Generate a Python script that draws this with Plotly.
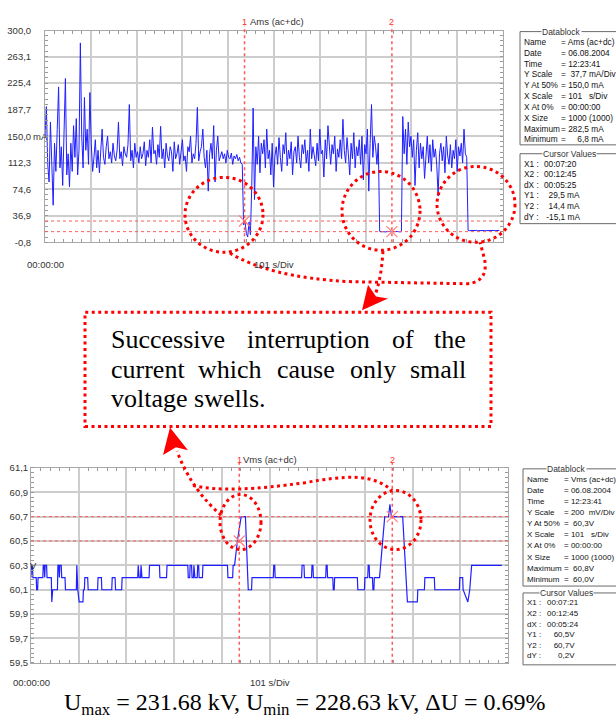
import plotly.graph_objects as go

W, H = 616, 724
SANS = "Liberation Sans, Arial, sans-serif"
SERIF = "Liberation Serif, Times New Roman, serif"
TXT = "#333333"
GRID = "#cdcdcd"
FRAME = "#a8a8a8"
TRACE = "#1f1fff"
RED = "#ff0000"
CURSOR = "#ff5a5a"
NBSP = "\u00a0"

# ---------------- data ----------------
# RMS current, one value every 3 s (mA)
CURRENT_STEP_S = 3
current_ma = [
    150, 192, 110, 85, 170, 120, 52, 140, 100, 160,
    220, 105, 135, 80, 150, 232, 95, 125, 78, 140,
    100, 165, 120, 175, 95, 130, 282.5, 150, 105, 205,
    130, 160, 110, 212, 140, 100, 120, 145, 105, 130,
    98, 125, 160, 120, 110, 135, 150, 118, 128, 112,
    140, 122, 115, 130, 170, 118, 128, 108, 135, 125,
    120, 138, 195, 115, 130, 105, 140, 120, 128, 112,
    135, 118, 125, 142, 108, 130, 120, 145, 112, 163,
    125, 130, 110, 138, 120, 164, 118, 132, 105, 140,
    122, 115, 135, 128, 100, 142, 118, 125, 138, 110,
    130, 145, 115, 122, 100, 135, 128, 150, 112, 125,
    118, 140, 191, 115, 128, 135, 160, 120, 105, 130,
    72, 125, 140, 118, 165, 85, 130, 150, 115, 122,
    128, 118, 125, 112, 130, 120, 118, 126, 110, 122,
    118, 124, 115, 120, 112, 110, 24, 29.5, 12, 6.8,
    28, 10, 80, 190, 60, 135, 110, 150, 98, 140,
    125, 145, 105, 160, 118, 130, 95, 140, 78, 122,
    135, 110, 148, 120, 100, 138, 125, 155, 108, 130,
    118, 142, 95, 128, 135, 112, 150, 120, 105, 138,
    125, 145, 112, 130, 100, 160, 118, 135, 122, 108,
    140, 115, 160, 125, 130, 92, 145, 118, 165, 128,
    110, 138, 125, 150, 100, 132, 120, 145, 118, 174,
    130, 112, 148, 125, 95, 140, 118, 155, 105, 135,
    122, 145, 110, 150, 88, 138, 125, 160, 72, 140,
    195, 120, 150, 135, 110, 140, 14.8, 14.2, 14.6, 14.4,
    14.0, 14.6, 14.3, 14.8, 14.2, 14.4, 14.5, 14.1, 14.4, 14.6,
    14.2, 14.5, 14.3, 178, 125, 160, 110, 170, 135, 150,
    120, 145, 80, 130, 155, 105, 140, 118, 135, 90,
    128, 150, 112, 138, 100, 145, 120, 132, 108, 65,
    125, 140, 115, 135, 98, 150, 122, 110, 138, 105,
    130, 118, 145, 100, 135, 122, 140, 112, 160, 125,
    120, 16.2, 15.8, 16.0, 16.1, 15.9, 16.0, 16.2, 15.8, 16.0,
    16.0, 15.9, 16.1, 16.0, 15.8, 16.0, 16.1, 15.9, 16.0, 16.1,
    16.1, 15.9, 16.0, 16.0, 16.1,
]
current_t = [i * CURRENT_STEP_S for i in range(len(current_ma))]

# RMS voltage, level changes as (time s, V)
voltage_steps = [
    (0, 60.2), (1, 60.3), (3, 60.3), (4, 60.2), (11, 60.2), (12, 60.1), (14, 60.1), (15, 60.2),
    (25, 60.2), (26, 60.3), (28, 60.3), (29, 60.2), (30, 60.3), (33, 60.3), (34, 60.2), (43, 60.2),
    (44, 60.0), (46, 60.1), (56, 60.1), (57, 60.3), (59, 60.3), (60, 60.2), (61, 60.3), (64, 60.3),
    (65, 60.2), (72, 60.2), (73, 60.1), (96, 60.1), (97, 60.3), (99, 60.1), (102, 60.0), (110, 60.0),
    (111, 60.1), (113, 60.1), (114, 60.2), (120, 60.2), (121, 60.1), (141, 60.1), (142, 60.2),
    (149, 60.2), (150, 60.1), (171, 60.1), (172, 60.2), (178, 60.2), (179, 60.1), (192, 60.1),
    (193, 60.2), (226, 60.2), (227, 60.3), (229, 60.2), (232, 60.2), (233, 60.3), (235, 60.2),
    (250, 60.2), (251, 60.3), (272, 60.3), (273, 60.2), (287, 60.2), (288, 60.3), (332, 60.3),
    (333, 60.2), (336, 60.2), (337, 60.3), (340, 60.3), (341, 60.2), (344, 60.2), (345, 60.3),
    (347, 60.2), (352, 60.2), (353, 60.3), (355, 60.3), (356, 60.2), (363, 60.2), (364, 60.3),
    (416, 60.3), (417, 60.2), (427, 60.2), (428, 60.3), (431, 60.3), (437, 60.5), (445, 60.7),
    (454, 60.7), (460, 60.1), (467, 60.1), (468, 60.2), (513, 60.2), (514, 60.3), (516, 60.3),
    (517, 60.2), (573, 60.2), (574, 60.3), (578, 60.3), (579, 60.2), (594, 60.2), (595, 60.3),
    (597, 60.3), (598, 60.2), (624, 60.2), (625, 60.3), (627, 60.3), (628, 60.2), (639, 60.2),
    (640, 60.1), (642, 60.1), (643, 60.2), (691, 60.2), (692, 60.1), (706, 60.1), (707, 60.2),
    (713, 60.2), (714, 60.3), (716, 60.3), (717, 60.2), (723, 60.2), (724, 60.1), (726, 60.1),
    (727, 60.2), (738, 60.2), (749, 60.7), (757, 60.7), (760, 60.8), (763, 60.7), (787, 60.7),
    (797, 60.0), (818, 60.0), (819, 60.1), (833, 60.1), (834, 60.2), (854, 60.2), (855, 60.1),
    (907, 60.1), (908, 60.2), (914, 60.2), (915, 60.1), (925, 60.0), (929, 60.1), (933, 60.3),
    (997, 60.3),
]
voltage_t = [p[0] for p in voltage_steps]
voltage_v = [p[1] for p in voltage_steps]

# scope screen scales
X_DIV_S = 101
X_DIVS = 10
current_tickvals = [-0.8, 36.9, 74.6, 112.3, 150.0, 187.7, 225.4, 263.1, 300.0]
current_ticktext = ["-0,8", "36,9", "74,6", "112,3", "150,0", "187,7", "225,4", "263,1", "300,0"]
voltage_tickvals = [59.5, 59.7, 59.9, 60.1, 60.3, 60.5, 60.7, 60.9, 61.1]
voltage_ticktext = ["59,5", "59,7", "59,9", "60,1", "60,3", "60,5", "60,7", "60,9", "61,1"]

# cursor positions (s) and levels
current_cursor_t = [440, 765]
current_cursor_y = [29.5, 14.4]
voltage_cursor_t = [441, 765]
voltage_cursor_y = [60.5, 60.7]

current_datablock = [
    ("Name", "= Ams (ac+dc)"), ("Date", "= 06.08.2004"), ("Time", "= 12:23:41"),
    ("Y Scale", "=" + NBSP * 2 + "37,7 mA/Div"), ("Y At 50%", "= 150,0 mA"),
    ("X Scale", "= 101" + NBSP * 3 + "s/Div"), ("X At 0%", "= 00:00:00"),
    ("X Size", "= 1000 (1000)"), ("Maximum", "= 282,5 mA"),
    ("Minimum", "=" + NBSP * 5 + "6,8 mA"),
]
current_cursor_vals = [
    ("X1 :", "00:07:20"), ("X2 :", "00:12:45"), ("dX :", "00:05:25"),
    ("Y1 :", NBSP * 2 + "29,5 mA"), ("Y2 :", NBSP * 2 + "14,4 mA"), ("dY :", NBSP + "-15,1 mA"),
]
voltage_datablock = [
    ("Name", "= Vms (ac+dc)"), ("Date", "= 06.08.2004"), ("Time", "= 12:23:41"),
    ("Y Scale", "= 200" + NBSP * 2 + "mV/Div"), ("Y At 50%", "=" + NBSP * 2 + "60,3V"),
    ("X Scale", "= 101" + NBSP * 3 + "s/Div"), ("X At 0%", "= 00:00:00"),
    ("X Size", "= 1000 (1000)"), ("Maximum", "=" + NBSP * 2 + "60,8V"),
    ("Minimum", "=" + NBSP * 2 + "60,0V"),
]
voltage_cursor_vals = [
    ("X1 :", "00:07:21"), ("X2 :", "00:12:45"), ("dX :", "00:05:24"),
    ("Y1 :", NBSP * 3 + "60,5V"), ("Y2 :", NBSP * 3 + "60,7V"), ("dY :", NBSP * 5 + "0,2V"),
]


# ---------------- helpers (pixel -> paper) ----------------
def px(x):
    return x / W


def py(y):
    return 1 - y / H


def pt(x, y):
    return f"{px(x):.5f},{py(y):.5f}"


annotations = []
shapes = []


def text(s, x, y, size=10, color=TXT, family=SANS, xanchor="center", yanchor="middle",
         xref="paper", yref="paper", bg=None):
    ax = px(x) if xref == "paper" else x
    ay = py(y) if yref == "paper" else y
    d = dict(text=s, x=ax, y=ay, xref=xref, yref=yref, showarrow=False,
             xanchor=xanchor, yanchor=yanchor, font=dict(family=family, size=size, color=color))
    if bg:
        d.update(bgcolor=bg, borderpad=0)
    annotations.append(d)


DOT = "3px,3.5px"


def dotted_path(points_cmd):
    shapes.append(dict(type="path", xref="paper", yref="paper", path=points_cmd,
                       line=dict(color=RED, width=3, dash=DOT)))


def dotted_ellipse(cx, cy, rx, ry):
    shapes.append(dict(type="circle", xref="paper", yref="paper",
                       x0=px(cx - rx), x1=px(cx + rx), y0=py(cy + ry), y1=py(cy - ry),
                       line=dict(color=RED, width=3, dash=DOT)))


def arrow_head(tip, a, notch, b):
    shapes.append(dict(type="path", xref="paper", yref="paper",
                       path=f"M{pt(*tip)} L{pt(*a)} L{pt(*notch)} L{pt(*b)} Z",
                       fillcolor=RED, line=dict(width=0)))


# ---------------- figure ----------------
fig = go.Figure()
fig.add_trace(go.Scatter(x=current_t, y=current_ma, mode="lines", xaxis="x", yaxis="y",
                         line=dict(color=TRACE, width=1), hoverinfo="skip"))
fig.add_trace(go.Scatter(x=voltage_t, y=voltage_v, mode="lines", xaxis="x2", yaxis="y2",
                         line=dict(color=TRACE, width=1.2), hoverinfo="skip"))
# cursor crossing markers
fig.add_trace(go.Scatter(x=current_cursor_t, y=current_cursor_y, mode="markers", xaxis="x", yaxis="y",
                         marker=dict(symbol="x-thin", size=11, line=dict(color="#ff8080", width=1.2)),
                         hoverinfo="skip"))
fig.add_trace(go.Scatter(x=voltage_cursor_t, y=voltage_cursor_y, mode="markers", xaxis="x2", yaxis="y2",
                         marker=dict(symbol="x-thin", size=11, line=dict(color="#ff8080", width=1.2)),
                         hoverinfo="skip"))

x_full = X_DIV_S * X_DIVS


def x_axis(domain, anchor):
    return dict(domain=domain, anchor=anchor, range=[0, x_full], tickmode="linear", tick0=0,
                dtick=X_DIV_S, showticklabels=False, ticks="", showgrid=True, gridcolor=GRID,
                gridwidth=1.5, showline=True, linecolor=FRAME, linewidth=1, mirror="allticks",
                zeroline=False, fixedrange=True,
                minor=dict(ticks="inside", ticklen=3, tickcolor="#9a9a9a", tickmode="linear",
                           tick0=0, dtick=X_DIV_S / 5, showgrid=False))


def y_axis(domain, anchor, rng, vals, labels, standoff, minor_dtick):
    return dict(domain=domain, anchor=anchor, range=rng, tickmode="array", tickvals=vals,
                ticktext=labels, ticks="", ticklabelstandoff=standoff,
                tickfont=dict(family=SANS, size=9.5, color=TXT), showgrid=True,
                gridcolor=GRID, gridwidth=1.5, showline=True, linecolor=FRAME, linewidth=1,
                mirror="allticks", zeroline=False, fixedrange=True,
                minor=dict(ticks="inside", ticklen=3, tickcolor="#9a9a9a", tickmode="linear",
                           tick0=rng[0], dtick=minor_dtick, showgrid=False))


TOP_L, TOP_R, TOP_T, TOP_B = 45, 503, 25, 240
BOT_L, BOT_R, BOT_T, BOT_B = 31, 508, 469, 667

fig.update_layout(
    width=W, height=H, margin=dict(l=0, r=0, t=0, b=0), showlegend=False,
    paper_bgcolor="white", plot_bgcolor="white",
    xaxis=x_axis([px(TOP_L), px(TOP_R)], "y"),
    yaxis=y_axis([py(TOP_B), py(TOP_T)], "x", [-0.8, 300.0], current_tickvals, current_ticktext, 11, 7.54),
    xaxis2=x_axis([px(BOT_L), px(BOT_R)], "y2"),
    yaxis2=y_axis([py(BOT_B), py(BOT_T)], "x2", [59.5, 61.1], voltage_tickvals, voltage_ticktext, 0, 0.04),
)

# cursors
for i, (t, yv) in enumerate(zip(current_cursor_t, current_cursor_y)):
    shapes.append(dict(type="line", xref="x", yref="paper", x0=t, x1=t, y0=py(TOP_B), y1=py(20),
                       line=dict(color=CURSOR, width=1.5, dash="dot")))
    shapes.append(dict(type="line", xref="x", yref="y", x0=0, x1=x_full, y0=yv, y1=yv,
                       line=dict(color=CURSOR, width=1, dash="dot")))
    text(str(i + 1), t, 16, size=9, color="#ff3030", xref="x")
for i, (t, yv) in enumerate(zip(voltage_cursor_t, voltage_cursor_y)):
    shapes.append(dict(type="line", xref="x2", yref="paper", x0=t, x1=t, y0=py(BOT_B), y1=py(464),
                       line=dict(color=CURSOR, width=1.5, dash="dot")))
    shapes.append(dict(type="line", xref="x2", yref="y2", x0=0, x1=x_full, y0=yv, y1=yv,
                       line=dict(color=CURSOR, width=1, dash="dot")))
    text(str(i + 1), t, 461, size=9, color="#ff3030", xref="x2")

# screen titles and time labels
text("Ams (ac+dc)", x_full / 2 + 6, 16, size=9.5, xref="x")
text("Vms (ac+dc)", x_full / 2, 461, size=9.5, xref="x2")
text("00:00:00", 0, 262, size=9.5, xref="x")
text("101 s/Div", x_full / 2, 262, size=9.5, xref="x")
text("00:00:00", 0, 687, size=9.5, xref="x2")
text("101 s/Div", x_full / 2, 687, size=9.5, xref="x2")
text("mA", 30.5, 150.0, size=9.5, xanchor="left", yref="y")
text("V", 27.5, 60.3, size=9.5, xanchor="left", yref="y2")


# data blocks
def group_box(x0, y0, y1, title, title_x):
    shapes.append(dict(type="rect", xref="paper", yref="paper", x0=px(x0), x1=px(W + 10),
                       y0=py(y1), y1=py(y0), line=dict(color="#6a6a6a", width=1)))
    text(title, title_x, y0, size=8.5, bg="white")


def block_lines(rows, x_label, x_value, y_first, step, size=8.3):
    for k, (lab, val) in enumerate(rows):
        yy = y_first + k * step
        text(lab, x_label, yy, size=size, xanchor="left", color="#111")
        text(val, x_value, yy, size=size, xanchor="left", color="#111")


group_box(520, 26, 141, "Datablock", 561)
block_lines(current_datablock, 522, 559, 36.5, 11)
group_box(520, 150, 221, "Cursor Values", 569)
block_lines(current_cursor_vals, 522, 542, 160, 10.8)

group_box(523, 470, 589, "Datablock", 566)
block_lines(voltage_datablock, 524.5, 562, 480.5, 11.3, size=8.0)
group_box(523, 596, 669, "Cursor Values", 566)
block_lines(voltage_cursor_vals, 524.5, 545, 606, 10.8, size=8.0)

# highlighted events on the current screen
dotted_ellipse(224, 212, 39, 38)
dotted_ellipse(381, 208, 39, 40)
dotted_ellipse(476, 201.5, 39, 38.5)
dotted_path(f"M{pt(230, 251)} C{pt(255, 266)} {pt(292, 277)} {pt(352, 280)} "
            f"L{pt(465, 282)} C{pt(486, 282)} {pt(487, 266)} {pt(484, 255)} L{pt(480, 240)}")
dotted_path(f"M{pt(383, 249)} C{pt(382, 262)} {pt(381, 275)} {pt(376, 291)}")
arrow_head((362, 309), (368, 283), (376, 295), (388, 297))

# highlighted swells on the voltage screen
dotted_ellipse(240.5, 524, 20.5, 28)
dotted_ellipse(395.5, 522, 25.5, 30)
dotted_path(f"M{pt(221, 517)} C{pt(205, 503)} {pt(188, 482)} {pt(177, 452)}")
dotted_path(f"M{pt(193, 487)} C{pt(220, 493)} {pt(255, 491)} {pt(305, 484)} "
            f"C{pt(345, 477)} {pt(372, 474)} {pt(392, 492)}")
arrow_head((170, 428), (163, 456), (176, 448), (188, 451))

# comment box
shapes.append(dict(type="rect", xref="paper", yref="paper", x0=px(85), x1=px(491),
                   y0=py(427), y1=py(311), line=dict(color=RED, width=3, dash=DOT)))
BOX = 26
line1 = [("Successive", 109, "left"), ("interruption", 308.5, "center"), ("of", 402.5, "center"),
         ("the", 468, "right")]
line2 = [("current", 109, "left"), ("which", 230, "center"), ("cause", 306, "center"),
         ("only", 372.5, "center"), ("small", 468, "right")]
for w, x, anc in line1:
    text(w, x, 339, size=BOX, color="black", family=SERIF, xanchor=anc)
for w, x, anc in line2:
    text(w, x, 369, size=BOX, color="black", family=SERIF, xanchor=anc)
text("voltage swells.", 109, 399, size=BOX, color="black", family=SERIF, xanchor="left")

# caption
text("U<sub>max</sub> = 231.68 kV, U<sub>min</sub> = 228.63 kV, \u0394U = 0.69%", 305, 709,
     size=24, color="black", family=SERIF)

fig.update_layout(annotations=annotations, shapes=shapes)
fig.write_html("out.html", config={"displayModeBar": False})
